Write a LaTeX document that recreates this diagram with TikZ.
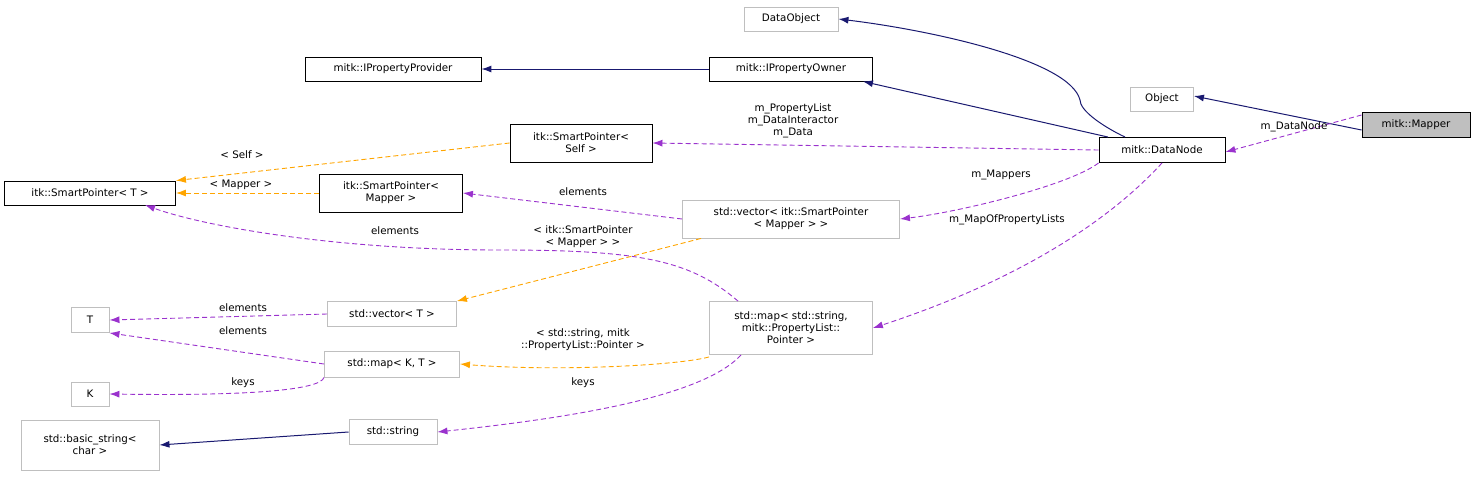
\documentclass[tikz,border=0pt]{standalone}
\usepackage{fontspec}
\setmainfont{DejaVu Sans}
\usetikzlibrary{arrows.meta}
\definecolor{nv}{HTML}{191970}
\definecolor{pu}{HTML}{9A32CD}
\definecolor{or}{HTML}{FFA500}
\definecolor{gb}{HTML}{BFBFBF}
\begin{document}
\begin{tikzpicture}[x=1pt,y=-1pt,
  every node/.style={font=\fontsize{10.3}{12}\selectfont,inner sep=0pt,align=center},
  bx/.style={draw=black,line width=0.9pt,rectangle},
  gx/.style={draw=gb,line width=0.9pt,rectangle},
  inh/.style={draw=nv,line width=1pt,-{Latex[length=10pt,width=7pt]}},
  use/.style={draw=pu,dash pattern=on 5pt off 3pt,line width=0.9pt,-{Latex[length=10pt,width=7pt]}},
  tpl/.style={draw=or,dash pattern=on 5pt off 3pt,line width=0.9pt,-{Latex[length=10pt,width=7pt]}},
  lb/.style={font=\fontsize{10.3}{12}\selectfont}]
\useasboundingbox (0,0) rectangle (1476,477);
\node[gx,minimum width=94,minimum height=24] (dobj) at (791,19) {DataObject};
\node[bx,minimum width=176,minimum height=24] (ipp) at (393,69) {mitk::IPropertyProvider};
\node[bx,minimum width=163,minimum height=24] (ipo) at (791,69) {mitk::IPropertyOwner};
\node[gx,minimum width=63,minimum height=24] (obj) at (1162,99) {Object};
\node[bx,fill=gb,minimum width=108,minimum height=25] (map) at (1416,125) {mitk::Mapper};
\node[bx,minimum width=142,minimum height=38] (sps) at (581,143) {itk::SmartPointer<\\Self >};
\node[bx,minimum width=126,minimum height=25] (dn) at (1162,150) {mitk::DataNode};
\node[bx,minimum width=171,minimum height=24] (spt) at (90,193) {itk::SmartPointer< T >};
\node[bx,minimum width=143,minimum height=38] (spm) at (391,193) {itk::SmartPointer<\\Mapper >};
\node[gx,minimum width=217,minimum height=38] (vsp) at (791,219) {std::vector< itk::SmartPointer\\< Mapper > >};
\node[gx,minimum width=38,minimum height=25] (T) at (90,320) {T};
\node[gx,minimum width=129,minimum height=25] (vt) at (392,314) {std::vector< T >};
\node[gx,minimum width=163,minimum height=53] (msp) at (791,328) {std::map< std::string,\\mitk::PropertyList::\\Pointer >};
\node[gx,minimum width=135,minimum height=26] (mkt) at (392,364) {std::map< K, T >};
\node[gx,minimum width=38,minimum height=24] (K) at (90,394) {K};
\node[gx,minimum width=88,minimum height=25] (str) at (393,432) {std::string};
\node[gx,minimum width=138,minimum height=50] (bs) at (90,445) {std::basic\_string<\\char >};

\draw[inh] ([xshift=-37pt]dn.north) .. controls (1100,125) and (1080,110) .. (1080,100) .. controls (1070,60) and (930,30) .. (dobj.east);
\draw[inh] ([xshift=-54pt]dn.north) -- ([xshift=-10pt]ipo.south east);
\draw[inh] (ipo.west) -- (ipp.east);
\draw[inh] ([yshift=-5pt]map.west) -- ([yshift=3pt]obj.east);
\draw[use] ([yshift=10pt]map.west) -- ([yshift=-2pt]dn.east);
\node[lb] (l0) at (1294,127) {m\_DataNode};
\draw[use] (dn.west) -- (sps.east);
\node[lb] (l1) at (793,121) {m\_PropertyList\\m\_DataInteractor\\m\_Data};
\draw[tpl] (sps.west) -- (spt.north east);
\node[lb] (l2) at (242,155) {< Self >};
\draw[tpl] (spm.west) -- (spt.east);
\node[lb] (l3) at (241,185) {< Mapper >};
\draw[use] (vsp.west) -- (spm.east);
\node[lb] (l4) at (583,192) {elements};
\draw[use] (dn.south west) .. controls (1070,185) and (960,212) .. (vsp.east);
\node[lb] (l5) at (1001,175) {m\_Mappers};
\draw[use] (dn.south) .. controls (1110,220) and (1020,280) .. (msp.east);
\node[lb] (l6) at (1007,220) {m\_MapOfPropertyLists};
\draw[use] ([xshift=-53pt]msp.north) .. controls (690,260) and (640,250) .. (500,250) .. controls (330,250) and (200,225) .. (145,205);
\node[lb] (l7) at (395,231) {elements};
\draw[tpl] ([xshift=-90pt]vsp.south) -- (vt.north east);
\node[lb] (l8) at (583,237) {< itk::SmartPointer\\< Mapper > >};
\draw[use] (vt.west) -- (T.east);
\node[lb] (l9) at (243,308) {elements};
\draw[use] (mkt.west) -- (T.south east);
\node[lb] (l10) at (243,331) {elements};
\draw[use] (mkt.south west) .. controls (320,390) and (250,396) .. (K.east);
\node[lb] (l11) at (243,383) {keys};
\draw[tpl] ([yshift=-2pt]msp.south west) .. controls (680,365) and (560,372) .. (mkt.east);
\node[lb] (l12) at (583,340) {< std::string, mitk\\::PropertyList::Pointer >};
\draw[use] ([xshift=-50pt]msp.south) .. controls (700,400) and (550,420) .. (str.east);
\node[lb] (l13) at (583,383) {keys};
\draw[inh] (str.west) -- (bs.east);
\end{tikzpicture}
\end{document}
